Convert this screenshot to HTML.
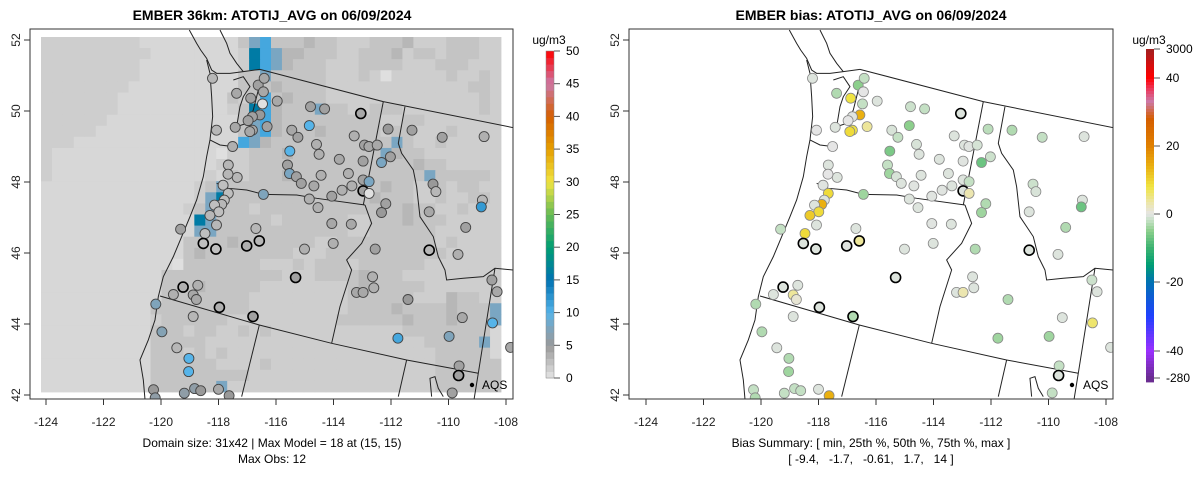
<!DOCTYPE html>
<html><head><meta charset="utf-8">
<style>
html,body{margin:0;padding:0;background:#fff;}
svg{display:block;font-family:"Liberation Sans",sans-serif;}
</style></head>
<body>
<svg id="chart" width="1200" height="479" viewBox="0 0 1200 479" xmlns="http://www.w3.org/2000/svg">
<defs>
<clipPath id="clipL"><rect x="30" y="29" width="483" height="370"/></clipPath>
<clipPath id="clipR"><rect x="629" y="29" width="484" height="370"/></clipPath>
</defs>
<rect width="1200" height="479" fill="#fff"/>
<text x="272" y="20" text-anchor="middle" font-size="14" font-weight="bold">EMBER 36km: ATOTIJ_AVG on 06/09/2024</text>
<text x="871" y="20" text-anchor="middle" font-size="14" font-weight="bold">EMBER bias: ATOTIJ_AVG on 06/09/2024</text>
<g id="gridL" clip-path="url(#clipL)"></g>
<g clip-path="url(#clipL)"><g id="bordL" transform="translate(30,30) scale(0.3333)"></g></g>
<g clip-path="url(#clipR)"><g id="bordRi" transform="translate(630,30) scale(0.3333)"></g></g>
<g id="ptsL" clip-path="url(#clipL)"></g>
<g id="ptsR" clip-path="url(#clipR)"></g>
<rect x="30" y="29" width="483" height="370" fill="none" stroke="#333" stroke-width="1"/>
<rect x="629" y="29" width="484" height="370" fill="none" stroke="#333" stroke-width="1"/>
<g id="axes" font-size="12" fill="#222"></g>
<circle cx="472" cy="385" r="2.2" fill="#000"/>
<text x="482" y="389" font-size="12">AQS</text>
<circle cx="1072" cy="385" r="2.2" fill="#000"/>
<text x="1083" y="389" font-size="12">AQS</text>
<text x="272" y="447" text-anchor="middle" font-size="12">Domain size: 31x42 | Max Model = 18 at (15, 15)</text>
<text x="272" y="463" text-anchor="middle" font-size="12">Max Obs: 12</text>
<text x="871" y="447" text-anchor="middle" font-size="12">Bias Summary: [ min, 25th %, 50th %, 75th %, max ]</text>
<text x="871" y="463" text-anchor="middle" font-size="12" xml:space="preserve">[ -9.4,   -1.7,   -0.61,   1.7,   14 ]</text>
<text x="549" y="44" text-anchor="middle" font-size="12">ug/m3</text>
<text x="1149" y="44" text-anchor="middle" font-size="12">ug/m3</text>
<g id="cbL"></g>
<g id="cbR"></g>
</svg>
<script>
const NS="http://www.w3.org/2000/svg";
const lonTicks=[-124,-122,-120,-118,-116,-114,-112,-110,-108];
const latTicks=[42,44,46,48,50,52];
const obsTicks=[0,5,10,15,20,25,30,35,40,45,50];
const biasTickLabels=["3000","40","20","0","-20","-40","-280"];
const biasTickVals=[3000,40,20,0,-20,-40,-280];
const gridRows=[
"bbbbbbbbbaaaaaaaaacfgcccdccbbbcccdbbbcccbb",
"bbbbbbbbbbaaaaaaaabhgfddcccbbcccdbccbcccbb",
"bbbbbbbbbaaaaaaaaabhgfdcccbbbccccbbbcccbbb",
"bbbbbbbbbaaaaaaaaaccfcccccbbbcbwbbbbbcbbcb",
"bbbbbbbbaaaaaaaaaacccdccccbbbbbbbbbbbbbccb",
"bbbbbbbaaaaaaaaaacbcgcdcccbbbbbbbbbbbbbbcb",
"bbbbbbbaaaaaaaaaabchgdcccfccbbcccbbbbbbbcb",
"bbbbbbaaaaaaaaaaaacfgdcccccccccbbccbbbbbbb",
"bbbbbaaaaaaaaaaaaacfgdcccdcccccbccbbbcbbbb",
"bbbaaaaaaaaaaaaaaagfdcccccccccccfcbbcbbbbb",
"baaaaaaaaaaaaaaawbbcccdccccccccfdccbbbbbbb",
"baaaaaaaaaaaaaaabbbcccccccccccccccdccbbbbb",
"baaaaaaaaaaaaaabacbcccdccccccccccccfcccccb",
"aaaaaaaaaaaaaabcfccccccccccccccdccbbcbccbb",
"aaaaaaaaaaaaaabfhcccccccccccccdcccbbcbbccb",
"aaaaaaaaaaaaabcfcccbcccccccccccccdccbbcbbb",
"aaaaaaaaaaaaaahfcccccbccccccbbcccdcccbbbbb",
"aaaaaaaaaaaaaaffccccccccccccbbccccccbbbbbb",
"aaaaaaaaaaaaaccccdcccccccbbcccccccccbcbbbb",
"aaaaaaaaaaaaacdccccccccbbbcccccccccccbbbbb",
"aaaaaaaaaaaawcccccccbbbcbcccbccccccbbbbbbb",
"aaaaaaaaaaacccccccccccbbbccccdcccbbbbbbbbb",
"aaaaaaaaaaacccdcccccbbbbbbbbcdcccccbbbbbbb",
"aaaaaaaaaaaccccccccbbbbbbbbbccccccbbbdccbb",
"aaaaaaaaaacccccccccbbbbbbbbbccccdccccdcccf",
"aaaaaaaaaabccccccbbbbbbbbbbccccccdcccdcccf",
"aaaaaaaaaacccbccbbcbcbbbbbbbbbbbbcccccccca",
"aaaaaaaaaacccccbbbbbbbbbbbbbbbbbbbbcccccfa",
"aaaaaaaaaacccbcbcbbbbbbbbbbbbbbbbbbbccccca",
"aaaaaaaaaaccccccbbbbcbbbbbbbbbbbbbbbcccccc",
"aaaaaaaaaacccccccccbbbbbbbbbbbbbbbbbcccccc",
"aaaaaaaaaaccccccfbbbbbbbbbbbbbbbbbbbcccccc"];
const cellCodeValues={a:0.9,b:1.5,c:2.2,d:3.0,e:4.5,w:0.4,f:8,g:11,h:16};
const siteLon=[-118.21,-117.37,-116.62,-116.41,-116.44,-116.88,-116.47,-115.96,-116.56,-116.82,-116.97,-116.31,-116.82,-116.91,-117.42,-118.07,-117.51,-115.45,-115.24,-114.84,-114.80,-114.31,-113.05,-112.10,-111.27,-110.22,-108.76,-113.28,-112.92,-112.77,-112.48,-114.59,-114.50,-115.52,-113.80,-112.97,-112.33,-112.02,-115.60,-115.53,-115.29,-115.12,-114.68,-114.43,-113.48,-113.36,-113.70,-112.97,-112.97,-112.76,-112.76,-114.06,-114.84,-114.54,-116.44,-117.66,-117.35,-117.67,-117.84,-117.66,-117.80,-117.89,-118.14,-117.99,-118.30,-118.07,-118.47,-118.53,-118.09,-119.32,-117.02,-116.58,-116.70,-115.01,-114.01,-114.06,-113.38,-112.18,-112.33,-112.55,-110.54,-110.44,-110.67,-110.67,-109.40,-109.67,-108.82,-108.86,-115.32,-112.64,-112.60,-113.20,-112.97,-111.41,-108.49,-108.31,-109.52,-108.47,-109.98,-111.76,-107.84,-109.63,-109.65,-109.87,-119.23,-118.72,-119.57,-118.88,-118.77,-117.97,-116.80,-118.88,-120.18,-119.97,-119.45,-119.03,-119.04,-120.26,-118.83,-118.62,-118.00,-119.19,-120.20,-117.63];
const siteLat=[50.92,50.50,50.73,50.92,50.54,50.36,50.20,50.28,49.89,49.84,49.73,49.56,49.46,49.42,49.54,49.46,49.00,49.46,49.26,49.59,50.12,50.06,49.93,49.49,49.46,49.26,49.28,49.30,49.04,49.00,49.04,49.06,48.78,48.87,48.64,48.59,48.55,48.71,48.48,48.24,48.15,47.96,47.89,48.19,48.24,47.89,47.77,48.06,47.75,47.68,48.01,47.60,47.52,47.28,47.65,48.48,48.13,48.22,47.91,47.68,47.49,47.37,47.35,47.16,47.06,46.79,46.55,46.27,46.11,46.67,46.20,46.34,46.69,46.11,46.27,46.83,46.81,47.39,47.14,46.11,47.94,47.73,47.16,46.08,46.72,45.96,47.49,47.30,45.31,45.33,45.02,44.89,44.89,44.69,45.24,44.91,44.18,44.03,43.65,43.60,43.34,42.82,42.55,42.06,45.04,45.09,44.83,44.82,44.69,44.47,44.21,44.21,44.56,43.78,43.33,43.03,42.66,42.15,42.18,42.12,42.16,42.05,41.92,41.98];
const siteObs=[3,4,4.5,4,4,4.5,0.3,4,5,4.5,4.5,4.5,4,4,4,3,3.5,4,4.5,10,4.5,4.5,4,5,4.5,4.5,3.5,3.5,4.5,4,4,3.5,3.5,10,4,4.5,8,4.5,4.5,8,4.5,4.5,4,3.5,3.5,3.5,3.5,4.5,4.5,0.3,8,4.5,3.5,3.5,7.5,3,3,3,2.5,2.5,2.5,3,2.5,2.5,3,3,2.5,2.5,2.5,4.5,3.5,3,3,3.5,3.5,4,4,4.5,5,4.5,5,3,4,3,4.5,3.5,3,12,4.5,3.5,3.5,4,4,5,4.5,4,4,10,7.5,11,4,4.5,4.5,4.5,3.5,3.5,3.5,4,4,3.5,4.5,3,7.5,7,3,10,10,5,6,5,4,6,6,5];
const siteBias=[-0.5,-3,-5,-2,0,8,-2,-0.5,14,-0.3,0,4,8,9,-0.5,0,0,-0.8,-2,-5,-1.5,-2,-0.5,-2.5,-3,-2,-0.5,-0.5,-0.5,-0.3,-1,-0.8,-0.5,-6,-0.5,-0.3,-7,-1.5,-2,-4,-0.8,-0.5,-0.3,-0.5,-0.5,-0.5,-0.3,-0.5,-0.5,3,-2,-0.3,-0.5,-0.5,-4,-0.5,-0.5,0,-0.3,9,-0.5,14,-0.5,9,11,-0.5,9,-0.5,-0.5,-2,-0.3,4,-0.5,-0.5,-0.5,-0.3,-0.5,-3,-4,-3,-1.5,-0.8,-0.5,-0.5,-3,-0.5,-0.5,-7,-0.5,-0.5,-0.5,-0.5,3,-3,-1.5,-0.5,-0.5,6,-4,-4,-0.5,-2,-0.5,-2,-0.5,-0.5,-0.5,4,1,-0.5,-3,-0.5,-3,-3,-0.5,-3,-4,-2,-2,-2,-0.5,-2,-3,14];
const thickSites=[23,49,68,69,71,72,84,89,103,105,110,111];

function xScale(lon,off){return 46+(lon+124)*28.75+off;}
function yScale(lat){return 40+(52-lat)*35.5;}
function hex(c){return [parseInt(c.slice(1,3),16),parseInt(c.slice(3,5),16),parseInt(c.slice(5,7),16)];}
function interp(stops,v){
  if(v<=stops[0][0])return stops[0][1];
  for(let i=1;i<stops.length;i++){if(v<=stops[i][0]){const a=stops[i-1],b=stops[i];const t=(v-a[0])/(b[0]-a[0]);const A=hex(a[1]),B=hex(b[1]);return 'rgb('+A.map((x,k)=>Math.round(x+(B[k]-x)*t)).join(',')+')';}}
  return stops[stops.length-1][1];
}
const obsStops=[[0,'#e5e5e5'],[5,'#999999'],[8,'#7aa6c2'],[10,'#56b4e9'],[15,'#0072b2'],[20,'#009e73'],[25,'#66bb55'],[30,'#f0e442'],[35,'#e69f00'],[40,'#d55e00'],[45,'#cc79a7'],[50,'#ff0000']];
const biasStops=[[-280,'#6a2c91'],[-40,'#9b30ff'],[-30,'#2040ff'],[-20,'#0072b2'],[-15,'#009e73'],[-10,'#3cb371'],[-5,'#8ccf8c'],[-2,'#c4e0c4'],[0,'#e5e5e5'],[3,'#ece6b0'],[8,'#f0e442'],[14,'#eab010'],[20,'#e08000'],[28,'#d55e00'],[33,'#cc79a7'],[37,'#ee3355'],[40,'#ff0000'],[3000,'#a02020']];
function obsColor(v){return interp(obsStops,v);}
function biasColor(v){return interp(biasStops,v);}
function mk(tag,attrs,parent){const e=document.createElementNS(NS,tag);for(const k in attrs)e.setAttribute(k,attrs[k]);parent.appendChild(e);return e;}

const gL=document.getElementById('gridL');
const nR=gridRows.length,nC=42,gx0=41,gy0=37,gw=460,gh=355;
gridRows.forEach((row,j)=>{for(let i=0;i<nC;i++){const ch=row[i]||'a';const v=cellCodeValues[ch];
  const r=mk('rect',{x:(gx0+i*gw/nC).toFixed(2),y:(gy0+j*gh/nR).toFixed(2),width:(gw/nC+0.4).toFixed(2),height:(gh/nR+0.4).toFixed(2),fill:obsColor(v)},gL);
  
  }});

const lines=[
"478,0 500,40 512,60 530,85 545,120 560,130 600,130 640,125 690,118",
"570,0 590,40 600,70 620,100 640,125",
"690,118 1060,215 1450,293",
"530,90 540,130 545,200 548,260 540,330 530,380 520,440 500,510 480,560 455,620 430,680 400,740 385,800 375,870 355,930 330,990 340,1050 345,1108",
"610,150 640,140 660,170 640,200 630,230 620,290 650,280 670,240 680,200 690,160",
"540,330 570,345 610,350",
"560,460 595,475 650,480 700,493 800,495 860,505 1005,525",
"1060,215 1000,525",
"1005,525 1025,580 995,640 950,690 965,720 930,830 905,940",
"390,798 688,885 905,940 1130,990 1345,1030",
"688,885 635,1100",
"1130,990 1105,1100",
"1125,230 1105,340 1115,370 1150,420 1160,470 1170,560 1190,590 1210,620 1225,680 1245,720 1250,750 1300,745 1360,740 1395,715 1450,720",
"1395,715 1345,1030 1332,1110",
"1205,1100 1200,1045 1215,1040 1225,1075 1240,1100"];
['bordL','bordRi'].forEach(id=>{const g=document.getElementById(id);lines.forEach(p=>{const l=mk('polyline',{points:p,fill:'none',stroke:'#222','stroke-width':'3'},g);
  
  });});

const pL=document.getElementById('ptsL'),pR=document.getElementById('ptsR');
siteLon.forEach((lon,i)=>{const th=thickSites.indexOf(i+1)>=0;
  const c1=mk('circle',{cx:xScale(lon,0).toFixed(1),cy:yScale(siteLat[i]).toFixed(1),r:5,fill:obsColor(siteObs[i]),stroke:th?'#000':'#444','stroke-width':th?1.6:0.9},pL);
  
  
  const c2=mk('circle',{cx:xScale(lon,600).toFixed(1),cy:yScale(siteLat[i]).toFixed(1),r:5,fill:biasColor(siteBias[i]),stroke:th?'#000':'#888','stroke-width':th?1.6:0.8},pR);
  
  
});

const ax=document.getElementById('axes');
[0,600].forEach(off=>{
  lonTicks.forEach(t=>{const x=xScale(t,off);
    mk('line',{x1:x,x2:x,y1:399,y2:405,stroke:'#333'},ax);
    const tx=mk('text',{x:x,y:426,'text-anchor':'middle'},ax);tx.textContent=t;
    
    });
  const bx=off===0?30:629;
  latTicks.forEach(t=>{const y=yScale(t);
    mk('line',{x1:bx-6,x2:bx,y1:y,y2:y,stroke:'#333'},ax);
    const tx=mk('text',{x:bx-10,y:y,'text-anchor':'middle',transform:'rotate(-90 '+(bx-10)+' '+y+')'},ax);tx.textContent=t;
    
    });
});

const cbL=document.getElementById('cbL');
function obsY(v){return 378-(v/50)*327;}
for(let k=0;k<50;k++){const r=mk('rect',{x:546,y:obsY(k+1).toFixed(2),width:8,height:(327/50+0.5).toFixed(2),fill:obsColor(k+0.5)},cbL);
  
  }
mk('rect',{x:546,y:51,width:8,height:327,fill:'none',stroke:'#888','stroke-width':0.5},cbL);
obsTicks.forEach(t=>{const y=obsY(t);mk('line',{x1:554,x2:560,y1:y,y2:y,stroke:'#555'},cbL);
  const tx=mk('text',{x:566,y:y+4,'font-size':12},cbL);tx.textContent=t;
  
  });
const cbR=document.getElementById('cbR');
const biasTickY=[49,78,146,214,282,351,378];
function biasAtY(y){for(let i=1;i<biasTickY.length;i++){if(y<=biasTickY[i]){const t=(y-biasTickY[i-1])/(biasTickY[i]-biasTickY[i-1]);return biasTickVals[i-1]+(biasTickVals[i]-biasTickVals[i-1])*t;}}return biasTickVals[biasTickVals.length-1];}
for(let y=49;y<380;y+=3){const r=mk('rect',{x:1146,y:y,width:8,height:3.4,fill:biasColor(biasAtY(y+1.5))},cbR);
  
  }
biasTickLabels.forEach((lab,i)=>{const y=biasTickY[i];mk('line',{x1:1154,x2:1160,y1:y,y2:y,stroke:'#555'},cbR);
  const tx=mk('text',{x:1166,y:y+4,'font-size':12},cbR);tx.textContent=lab;
  
  });
</script>
</body></html>
